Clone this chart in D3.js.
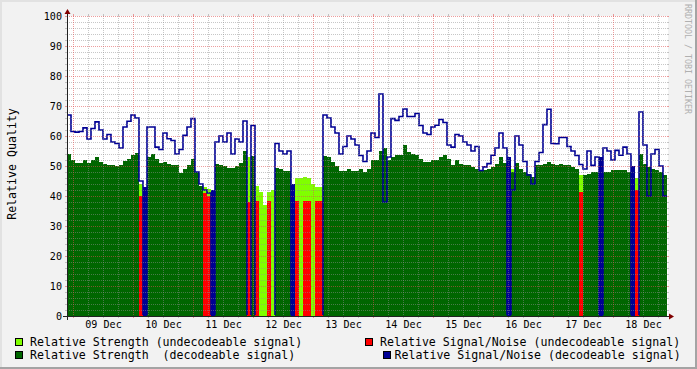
<!DOCTYPE html>
<html><head><meta charset="utf-8">
<script src="https://cdn.jsdelivr.net/npm/d3@7"></script>
<style>
html,body{margin:0;padding:0;background:#F2F2F2}
svg{display:block}
text{font-family:"DejaVu Sans Mono",monospace}
</style>
</head><body>
<svg id="chart" width="697" height="369"></svg>
<script>
const _ = null;
const startTime = Date.UTC(2008, 11, 8, 21, 36);
const stepMinutes = 96;

// Relative Strength (decodeable signal)
const strong = [
 54,52,51,51,52,51,52,53,51.5,50.7, 50.2,50.2,50,50.4,51.8,52.2,53.6,54.5,_,43,
 53,54,52.4,51,51.3,50.8,50.4,50.2,47.8,49.1, 50.4,52.5,48,43.5,_,_,42,50.8,50.5,50,
 49.5,49.3,50,51,55,_,53.5,_,_,_, _,_,49.5,49,48.5,48.5,44,_,_,_,
 _,_,_,_,53.5,53,51.5,50,48.5,48.5, 49,48.5,48.5,49,48,49,51.9,52,55,56,
 52,53,53.6,53.6,56.9,54.7,54,53.6,52.4,51.3, 51.5,52,52,53,53.6,52.4,50.2,52,50.8,50.2,
 50.2,49.7,49.1,48.6,48.6,49,49.7,50.8,53,51, 53,48,51,49,48,47.4,46.3,50.2,50.2,50.8,
 51.3,50.8,50.2,50.8,50.2,50.2,49.7,49,_,47, 47.4,48,48,53,48,48,48.6,48.6,48.6,48.6,
 48,50,_,54,50.8,49.7,49,48.6,48,47
];
// Relative Strength (undecodeable signal)
const weak = [
 _,_,_,_,_,_,_,_,_,_, _,_,_,_,_,_,_,_,44,_,
 _,_,_,_,_,_,_,_,_,_, _,_,_,_,43,42.5,_,_,_,_,
 _,_,_,_,_,53,_,43.5,41.5,37, 41.5,42,_,_,_,_,_,46,46,46.5,
 46,44,43,43,_,_,_,_,_,_, _,_,_,_,_,_,_,_,_,_,
 _,_,_,_,_,_,_,_,_,_, _,_,_,_,_,_,_,_,_,_,
 _,_,_,_,_,_,_,_,_,_, _,49,_,_,_,_,_,_,_,_,
 _,_,_,_,_,_,_,_,47,_, _,_,_,_,_,_,_,_,_,_,
 _,_,46,_,_,_,_,_,_,_
];
// Relative Signal/Noise (undecodeable signal)
const snrBad = [
 _,_,_,_,_,_,_,_,_,_, _,_,_,_,_,_,_,_,40,_,
 _,_,_,_,_,_,_,_,_,_, _,_,_,_,41,40,_,_,_,_,
 _,_,_,_,_,38,_,38.5,_,_, 38.3,_,_,_,_,_,_,38.3,_,38.3,
 38.3,_,38.3,38.3,_,_,_,_,_,_, _,_,_,_,_,_,_,_,_,_,
 _,_,_,_,_,_,_,_,_,_, _,_,_,_,_,_,_,_,_,_,
 _,_,_,_,_,_,_,_,_,_, _,_,_,_,_,_,_,_,_,_,
 _,_,_,_,_,_,_,_,41.4,_, _,_,_,_,_,_,_,_,_,_,
 _,_,42,_,_,_,_,_,_,_
];
// Relative Signal/Noise (decodeable signal)
const snr = [
 67,61.5,61.3,61.5,62.7,59,62.5,64.7,62,59, 60.5,58,57.5,56,63,64.9,67,66,45,0,
 63,63,56.3,55.5,61,59.1,58.5,54,55.5,60.2, 63,65.8,48,44,42,41,0,58,60,58,
 61,54,59,58,65,0,63.5,0,0,0, 0,0,57.5,55,54,55,0,0,0,0,
 0,0,0,0,67,66,63,61,54,56.5, 60,59,57,53.5,51.5,55,61,59.5,74,38,
 53,65.8,65.2,66.5,69,66.5,66.5,67.5,63.5,61, 60.5,63,63.6,65.5,64.5,57,56.3,60.5,60,58,
 57,55,56.5,48.5,49.7,50.8,53.6,56,61,56, 0,42,60,57,51.5,47,44,51.5,54.5,63.8,
 68.9,57.5,57.4,59.5,59.5,56.5,55,53.5,50.5,49, 55,50.2,53,0,56,55,52,55.2,53.6,56.3,
 54,0,0,68,57,40,54,55.5,50,40
];

const yTicks = [0,10,20,30,40,50,60,70,80,90,100];
const dayLabels = ["09 Dec","10 Dec","11 Dec","12 Dec","13 Dec","14 Dec","15 Dec","16 Dec","17 Dec","18 Dec"];
const legendLabels = [
 "Relative Strength (undecodeable signal)",
 "Relative Strength  (decodeable signal)",
 "Relative Signal/Noise (undecodeable signal)",
 "Relative Signal/Noise (decodeable signal)"
];
const colors = {weak:"#80FF00", strong:"#006600", bad:"#FF0000", snr:"#000094"};

const svg = d3.select("#chart");
const W = 697, H = 369;
const X0 = 67, X1 = 667, Y0 = 316, Y1 = 16;

const step = stepMinutes * 60000;
const endTime = startTime + strong.length * step;
const x = d3.scaleUtc().domain([new Date(startTime), new Date(endTime)]).range([X0, X1]);
const y = d3.scaleLinear().domain([0, 100]).range([Y0, Y1]);
const t = i => new Date(startTime + i * step);

// background & shading border
svg.append("rect").attr("width", W).attr("height", H).attr("fill", "#F2F2F2");
svg.append("path").attr("d", `M0,0H${W}V2H2V${H}H0Z`).attr("fill", "#E2E2E2");
svg.append("path").attr("d", `M${W},${H}H0V${H-2}H${W-2}V0H${W}Z`).attr("fill", "#A4A4A4");
// canvas
svg.append("rect").attr("x", X0).attr("y", Y1).attr("width", X1 - X0 + 1).attr("height", Y0 - Y1).attr("fill", "#fff");

const data = strong.map((s, i) => ({i, t0: t(i), t1: t(i + 1), strong: s, weak: weak[i], bad: snrBad[i], snr: snr[i]}));
const g = svg.append("g").attr("shape-rendering", "crispEdges");

function bars(key, color) {
  g.selectAll(null).data(data.filter(d => d[key] != null)).enter().append("rect")
    .attr("x", d => x(d.t0)).attr("width", d => x(d.t1) - x(d.t0))
    .attr("y", d => y(d[key])).attr("height", d => y(0) - y(d[key]))
    .attr("fill", color);
}
bars("weak", colors.weak);
bars("strong", colors.strong);
bars("bad", colors.bad);
// S/N line dropping to zero inside a decodeable sample
g.selectAll(null).data(data.filter(d => d.snr === 0 && d.strong != null)).enter().append("rect")
  .attr("x", d => x(d.t0)).attr("width", d => x(d.t1) - x(d.t0))
  .attr("y", d => y(d.strong)).attr("height", d => y(0) - y(d.strong))
  .attr("fill", colors.snr);

svg.append("clipPath").attr("id", "clipL").append("rect")
  .attr("x", X0).attr("y", 0).attr("width", X1 - X0 + 2).attr("height", Y0 - 0.9);
const linePts = data.map(d => ({t: d.t0, v: d.snr}));
linePts.push({t: new Date(endTime), v: snr[snr.length - 1]});
svg.append("path").attr("clip-path", "url(#clipL)")
  .attr("d", d3.line().x(d => x(d.t)).y(d => y(d.v)).curve(d3.curveStepAfter)(linePts))
  .attr("fill", "none").attr("stroke", colors.snr).attr("stroke-width", 1.6)
  .attr("stroke-linejoin", "miter");

// grid (drawn on top, rrdtool style)
const gridC = "rgba(143,143,143,0.5)", mgridC = "rgba(222,79,79,0.55)";
const grid = svg.append("g").attr("shape-rendering", "crispEdges").attr("stroke-width", 1);
const minorT = d3.utcHour.every(6).range(new Date(startTime), new Date(endTime)).filter(d => d.getUTCHours() !== 0);
const majorT = d3.utcDay.range(new Date(startTime), new Date(endTime));
function vline(d, c) {
  const px = Math.round(x(d)) + 0.5;
  grid.append("line").attr("x1", px).attr("x2", px).attr("y1", Y1).attr("y2", Y0).attr("stroke", c).attr("stroke-dasharray", "1,1");
  grid.append("line").attr("x1", px).attr("x2", px).attr("y1", Y1 - 2).attr("y2", Y1).attr("stroke", c);
  grid.append("line").attr("x1", px).attr("x2", px).attr("y1", Y0).attr("y2", Y0 + 2).attr("stroke", c);
}
function hline(v, c) {
  const py = Math.round(y(v)) + 0.5;
  grid.append("line").attr("x1", X0).attr("x2", X1).attr("y1", py).attr("y2", py).attr("stroke", c).attr("stroke-dasharray", "1,1");
  grid.append("line").attr("x1", X0 - 2).attr("x2", X0).attr("y1", py).attr("y2", py).attr("stroke", c);
  grid.append("line").attr("x1", X1).attr("x2", X1 + 2).attr("y1", py).attr("y2", py).attr("stroke", c);
}
minorT.forEach(d => vline(d, gridC));
d3.range(2, 100, 2).filter(v => v % 10 !== 0).forEach(v => hline(v, gridC));
majorT.forEach(d => vline(d, mgridC));
yTicks.forEach(v => hline(v, mgridC));

// axes lines + arrows
const ax = svg.append("g").attr("shape-rendering", "crispEdges");
ax.append("line").attr("x1", X0 - 4).attr("x2", X1 + 4).attr("y1", Y0 + 0.5).attr("y2", Y0 + 0.5).attr("stroke", "#212121");
ax.append("line").attr("x1", X0 + 0.5).attr("x2", X0 + 0.5).attr("y1", Y0 + 4).attr("y2", Y1 - 4).attr("stroke", "#212121");
svg.append("path").attr("d", `M${X1+2},${Y0-2.5}L${X1+7},${Y0+0.5}L${X1+2},${Y0+3.5}Z`).attr("fill", "#800000");
svg.append("path").attr("d", `M${X0-2.5},${Y1-2}L${X0+0.5},${Y1-7}L${X0+3.5},${Y1-2}Z`).attr("fill", "#800000");

// axis labels via d3 axes
const noon = majorT.map(d => new Date(d.getTime() + 12 * 3600000));
const xAxis = d3.axisBottom(x).tickValues(noon).tickSize(0).tickPadding(5).tickFormat((d, i) => dayLabels[i]);
const xg = svg.append("g").attr("transform", `translate(0,${Y0})`).call(xAxis);
xg.select(".domain").remove();
xg.selectAll("text").attr("font-family", "DejaVu Sans Mono").attr("font-size", "10.1px").attr("fill", "#000");

const yAxis = d3.axisLeft(y).tickValues(yTicks).tickSize(0).tickPadding(5).tickFormat(d3.format("d"));
const yg = svg.append("g").attr("transform", `translate(${X0},0)`).call(yAxis);
yg.select(".domain").remove();
yg.selectAll("text").attr("font-family", "DejaVu Sans Mono").attr("font-size", "10.1px").attr("fill", "#000");

// y title
svg.append("text").attr("transform", "translate(12,164) rotate(-90)")
  .attr("text-anchor", "middle").attr("dy", "0.35em").attr("font-size", "11.6px").attr("fill", "#000")
  .text("Relative Quality");
// watermark
svg.append("text").attr("transform", "translate(688,4) rotate(90)")
  .attr("dominant-baseline", "central").attr("font-size", "8.3px").attr("fill", "#B0B0B0")
  .text("RRDTOOL / TOBI OETIKER");

// legend
const legend = [
  {label: legendLabels[0], color: colors.weak, bx: 15, tx: 30, by: 345.5},
  {label: legendLabels[1], color: colors.strong, bx: 15, tx: 30, by: 359},
  {label: legendLabels[2], color: colors.bad, bx: 365, tx: 380, by: 345.5},
  {label: legendLabels[3], color: colors.snr, bx: 383, tx: 394.5, by: 359}
];
legend.forEach(l => {
  svg.append("rect").attr("x", l.bx + 0.5).attr("y", l.by - 7.5).attr("width", 7).attr("height", 7)
    .attr("fill", l.color).attr("stroke", "#000").attr("stroke-width", 1).attr("shape-rendering", "crispEdges");
  svg.append("text").attr("x", l.tx).attr("y", l.by).attr("font-size", "11.6px").attr("fill", "#000")
    .attr("xml:space", "preserve").style("white-space", "pre").text(l.label);
});
</script>
</body></html>
